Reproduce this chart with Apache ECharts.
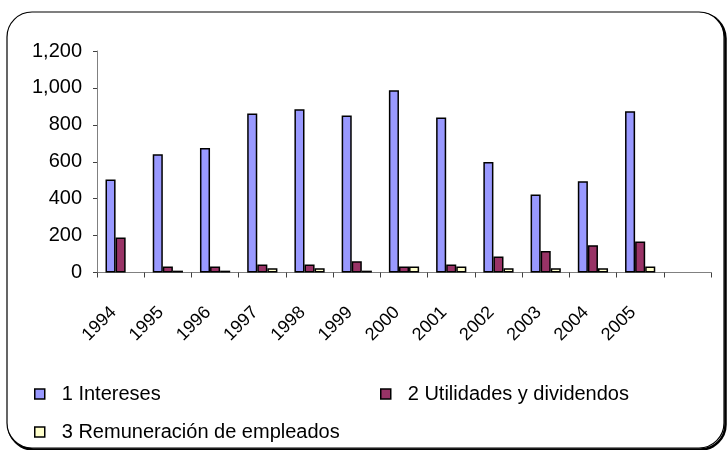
<!DOCTYPE HTML>
<html>
<head>
    <meta charset="utf-8">
    <title>Ingresos por año</title>
    <script src="https://cdn.jsdelivr.net/npm/echarts@6/dist/echarts.min.js"></script>
    <style>
        html, body { margin: 0; padding: 0; background: #fff; }
        #main { width: 727px; height: 450px; }
    </style>
</head>
<body>
<div id="main"></div>
<script type="text/javascript">

    // categories (last slot is empty, as in the original)
    var years = ['1994', '1995', '1996', '1997', '1998', '1999', '2000', '2001', '2002', '2003', '2004', '2005', ''];

    var intereses    = [504, 641, 674, 861, 885, 850, 987, 840, 598, 422, 495, 874, null];
    var utilidades   = [189, 33, 33, 43, 43, 61, 33, 43, 87, 116, 148, 168, null];
    var remuneracion = [null, 10, 10, 23, 23, 10, 33, 33, 23, 23, 23, 33, null];

    var seriesNames = ['1 Intereses', '2 Utilidades y dividendos', '3 Remuneración de empleados'];
    var seriesColors = ['#9999FF', '#993366', '#FFFFCC'];

    var yTicks = [0, 200, 400, 600, 800, 1000, 1200];

    var font = 'Arial, "Liberation Sans", sans-serif';

    function fmt(v) {
        return String(v).replace(/\B(?=(\d{3})+(?!\d))/g, ',');
    }

    function makeSeries(i, data) {
        return {
            name: seriesNames[i],
            type: 'bar',
            data: data,
            barGap: 0,
            barCategoryGap: '36%',
            itemStyle: { color: seriesColors[i], borderColor: '#000', borderWidth: 1.5 }
        };
    }

    function makeLegend(i, left, top) {
        return {
            data: [{ name: seriesNames[i], itemStyle: { color: seriesColors[i], borderColor: '#000', borderWidth: 1.5 } }],
            left: left,
            top: top,
            icon: 'rect',
            itemWidth: 10,
            itemHeight: 10,
            selectedMode: false,
            textStyle: { fontFamily: font, fontSize: 20, color: '#000', padding: [0, 0, 0, 12] }
        };
    }

    var chart = echarts.init(document.getElementById('main'));

    var option = {
        animation: false,
        graphic: [
            {
                type: 'rect',
                z: -1,
                shape: { x: 8.5, y: 13.5, width: 717, height: 436, r: 25 },
                style: { fill: 'none', stroke: '#000', lineWidth: 2.5 }
            },
            {
                type: 'rect',
                z: 0,
                shape: { x: 7, y: 12, width: 717, height: 436, r: 25 },
                style: { fill: '#fff', stroke: '#000', lineWidth: 1.2 }
            }
        ],
        grid: {
            left: 97,
            top: 51,
            width: 614,
            height: 221.5,
            containLabel: false
        },
        legend: [
            makeLegend(0, 29, 379),
            makeLegend(1, 375, 379),
            makeLegend(2, 29, 417)
        ],
        xAxis: {
            type: 'category',
            data: years,
            axisLine: { lineStyle: { color: '#808080', width: 1 } },
            axisTick: { show: true, alignWithLabel: false, length: 5, lineStyle: { color: '#404040' } },
            axisLabel: {
                interval: 0,
                rotate: 45,
                margin: 30,
                padding: [0, 10, 0, 0],
                fontFamily: font,
                fontSize: 18,
                color: '#000'
            }
        },
        yAxis: {
            type: 'value',
            min: yTicks[0],
            max: yTicks[yTicks.length - 1],
            interval: 200,
            splitLine: { show: false },
            axisLine: { show: true, lineStyle: { color: '#808080', width: 1 } },
            axisTick: { show: true, length: 4, lineStyle: { color: '#404040' } },
            axisLabel: {
                margin: 15,
                fontFamily: font,
                fontSize: 20,
                color: '#000',
                formatter: fmt
            }
        },
        series: [
            makeSeries(0, intereses),
            makeSeries(1, utilidades),
            makeSeries(2, remuneracion)
        ]
    };

    chart.setOption(option);

</script>
</body>
</html>
